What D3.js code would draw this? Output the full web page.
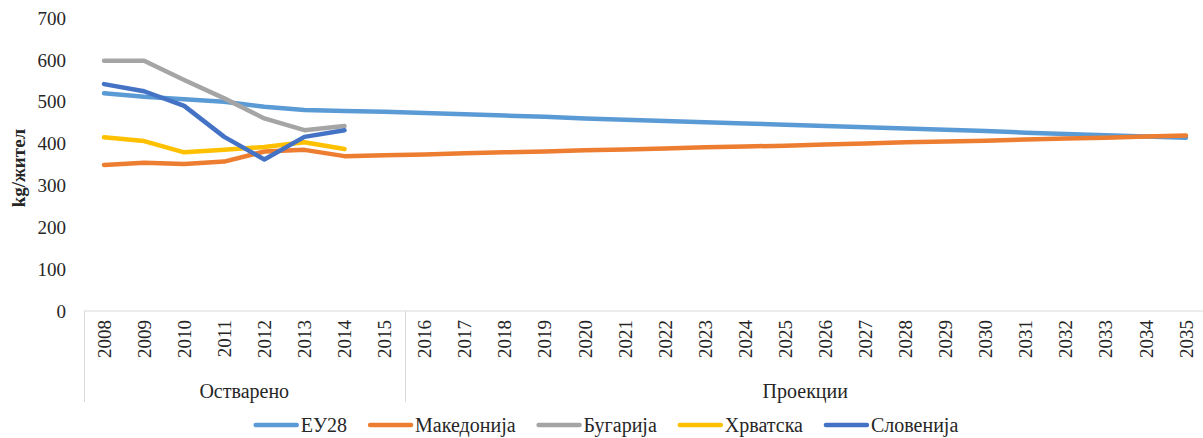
<!DOCTYPE html>
<meta charset="UTF-8">
<style>
body { margin: 0; background: #fff; }
svg text { fill: #262626; }
.line { fill: none; stroke-width: 4.5px; stroke-linejoin: round; stroke-linecap: round; }
</style>
<body>
<script src="https://d3js.org/d3.v7.min.js"></script>
<script>

// categories
var years = ["2008","2009","2010","2011","2012","2013","2014","2015",
             "2016","2017","2018","2019","2020","2021","2022","2023","2024","2025",
             "2026","2027","2028","2029","2030","2031","2032","2033","2034","2035"];
var groups = [
  {name: "Остварено", from: "2008", to: "2015"},
  {name: "Проекции", from: "2016", to: "2035"}
];
var yTicks = [0, 100, 200, 300, 400, 500, 600, 700];

// series values (kg/жител)
var eu28 = [520,512,506,500,488,480,478,476,473,470,467,464,460,457,454,451,448,445,442,439,436,433,430,426,423,420,417,414];
var makedonija = [349,354,351,357,381,385,370,372,374,377,379,381,384,386,388,391,393,395,398,400,403,405,407,410,412,414,417,419];
var bugarija = [598,598,552,508,460,432,442];
var hrvatska = [415,406,379,385,392,403,387];
var slovenija = [542,525,490,416,362,416,432];

var seriesNames = ["ЕУ28", "Македонија", "Бугарија", "Хрватска", "Словенија"];
var seriesColors = ["#5B9BD5", "#ED7D31", "#A5A5A5", "#FFC000", "#4472C4"];
var seriesValues = [eu28, makedonija, bugarija, hrvatska, slovenija];

var W = 1203, H = 438;
var plot = {left: 84, right: 1206, top: 18, bottom: 311};
var FONT = "'Liberation Serif', 'Times New Roman', serif";

var svg = d3.select("body").append("svg")
    .attr("width", W)
    .attr("height", H)
    .style("font-family", FONT);

var x = d3.scaleBand().domain(years).range([plot.left, plot.right]).padding(0);
var y = d3.scaleLinear().domain([0, 700]).range([plot.bottom, plot.top]);
var cx = function(d) { return x(d) + x.bandwidth() / 2; };

// y axis labels (no axis line, no gridlines)
svg.append("g").selectAll("text")
    .data(yTicks)
  .enter().append("text")
    .attr("x", 66)
    .attr("y", function(d) { return y(d); })
    .attr("dy", "0.35em")
    .attr("text-anchor", "end")
    .style("font-size", "19px")
    .text(function(d) { return d; });

// y title
svg.append("text")
    .attr("transform", "translate(18,168) rotate(-90)")
    .attr("text-anchor", "middle")
    .attr("dy", "0.35em")
    .style("font-size", "19px")
    .style("font-weight", "bold")
    .text("kg/жител");

// category axis
var axisColor = "#d9d9d9";
svg.append("line")
    .attr("x1", plot.left).attr("x2", plot.right)
    .attr("y1", plot.bottom).attr("y2", plot.bottom)
    .attr("stroke", axisColor).attr("stroke-width", 1);

var dividers = [x(groups[0].from), x(groups[1].from), x(groups[1].to) + x.bandwidth()];
svg.append("g").selectAll("line")
    .data(dividers)
  .enter().append("line")
    .attr("x1", function(d) { return Math.round(d) + 0.5; })
    .attr("x2", function(d) { return Math.round(d) + 0.5; })
    .attr("y1", plot.bottom)
    .attr("y2", 402)
    .attr("stroke", axisColor).attr("stroke-width", 1);

svg.append("g").selectAll("text")
    .data(years)
  .enter().append("text")
    .attr("transform", function(d) { return "translate(" + cx(d) + ",320) rotate(-90)"; })
    .attr("text-anchor", "end")
    .attr("dy", "0.35em")
    .style("font-size", "19px")
    .text(function(d) { return d; });

svg.append("g").selectAll("text")
    .data(groups)
  .enter().append("text")
    .attr("x", function(d) { return (x(d.from) + x(d.to) + x.bandwidth()) / 2; })
    .attr("y", 391)
    .attr("dy", "0.35em")
    .attr("text-anchor", "middle")
    .style("font-size", "20px")
    .text(function(d) { return d.name; });

// lines
var line = d3.line()
    .x(function(d, i) { return cx(years[i]); })
    .y(function(d) { return y(d); });

svg.append("g").selectAll("path")
    .data(seriesValues)
  .enter().append("path")
    .attr("class", "line")
    .attr("stroke", function(d, i) { return seriesColors[i]; })
    .attr("d", line);

// legend
var legend = svg.append("g");
var items = legend.selectAll("g")
    .data(seriesNames)
  .enter().append("g");

items.append("line")
    .attr("x1", 2).attr("x2", 43)
    .attr("y1", 0).attr("y2", 0)
    .attr("stroke", function(d, i) { return seriesColors[i]; })
    .attr("stroke-width", 4.5)
    .attr("stroke-linecap", "round");

items.append("text")
    .attr("x", 47)
    .attr("dy", "0.35em")
    .style("font-size", "20px")
    .text(function(d) { return d; });

var gap = 21;
var pos = 0;
items.each(function() {
  var g = d3.select(this);
  g.attr("transform", "translate(" + pos + ",0)");
  pos += 47 + g.select("text").node().getComputedTextLength() + gap;
});
var total = pos - gap;
legend.attr("transform", "translate(" + (606 - total / 2) + ",425)");

</script>
</body>
